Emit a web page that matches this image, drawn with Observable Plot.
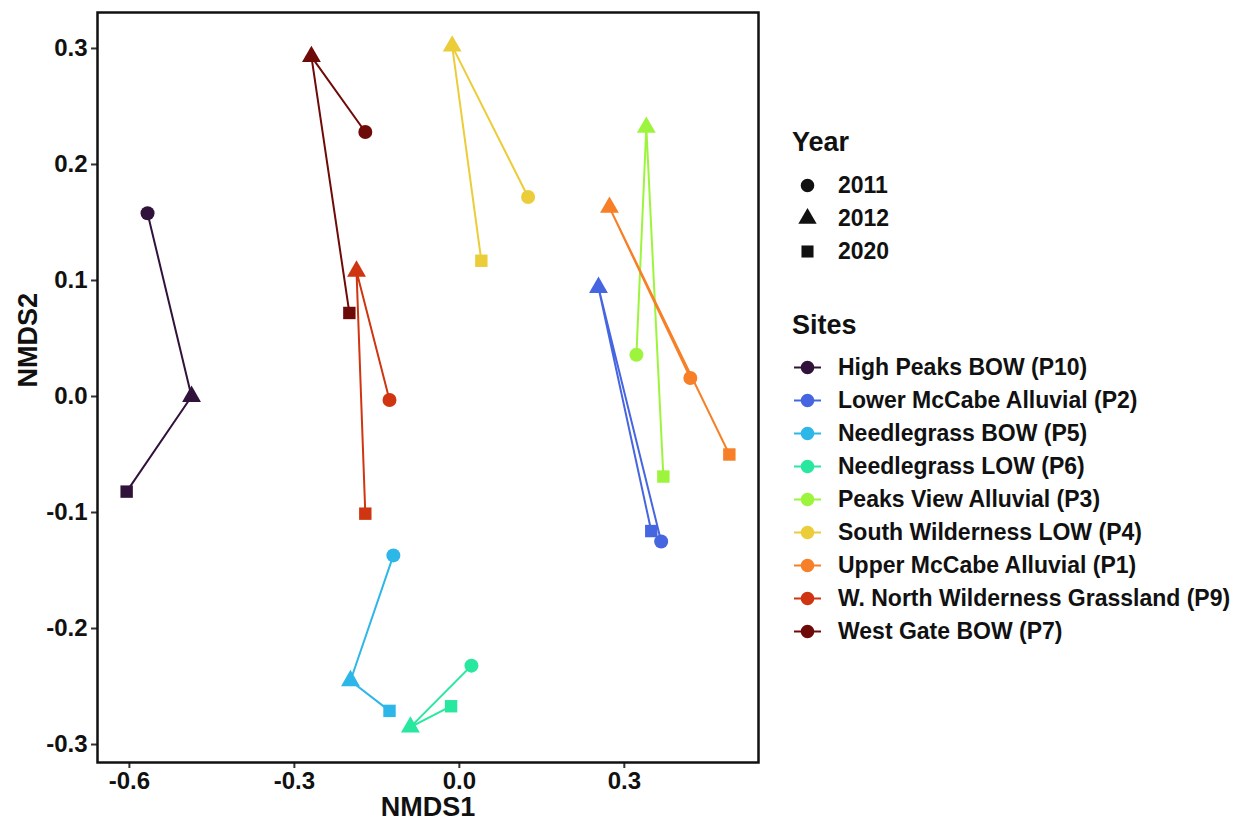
<!DOCTYPE html>
<html>
<head>
<meta charset="utf-8">
<script src="https://cdn.jsdelivr.net/npm/d3@7"></script>
<script src="https://cdn.jsdelivr.net/npm/@observablehq/plot@0.6"></script>
<style>
  body { margin: 0; background: #fff; font-family: "Liberation Sans", Arial, sans-serif; font-weight: bold; }
  #wrap { position: relative; width: 1235px; height: 822px; }
  #chart { position: absolute; left: 0; top: 0; }
  #legend { position: absolute; left: 792px; top: 0; color: #111; }
  .ltitle { position: absolute; left: 0; font-size: 27px; white-space: nowrap; line-height: 1; }
  .lrow { position: absolute; left: 0; height: 33px; display: flex; align-items: center; white-space: nowrap; font-size: 23px; }
  .lrow svg { display: block; }
  .lrow span { margin-left: 16px; }
</style>
</head>
<body>
<div id="wrap">
  <div id="chart"></div>
  <div id="legend"></div>
</div>
<script>
// ---- data ----
const sites = [
  "High Peaks BOW (P10)",
  "Lower McCabe Alluvial (P2)",
  "Needlegrass BOW (P5)",
  "Needlegrass LOW (P6)",
  "Peaks View Alluvial (P3)",
  "South Wilderness LOW (P4)",
  "Upper McCabe Alluvial (P1)",
  "W. North Wilderness Grassland (P9)",
  "West Gate BOW (P7)"
];
const siteColors = ["#30123b", "#4665e0", "#2cb7e8", "#28e8a0", "#9cf53c", "#ebcd3a", "#f67f27", "#cf3510", "#6e0a08"];
const years = ["2011", "2012", "2020"];
const yearSymbols = ["circle", "triangle", "square"];

// NMDS1 per site, in year order 2011, 2012, 2020
const nmds1 = [
  [-0.567, -0.487, -0.605],
  [0.367, 0.253, 0.349],
  [-0.120, -0.198, -0.127],
  [0.022, -0.089, -0.015],
  [0.322, 0.340, 0.371],
  [0.125, -0.013, 0.040],
  [0.420, 0.273, 0.491],
  [-0.127, -0.187, -0.171],
  [-0.171, -0.269, -0.200]
];
// NMDS2 per site, in year order 2011, 2012, 2020
const nmds2 = [
  [0.158, 0.000, -0.082],
  [-0.125, 0.094, -0.116],
  [-0.137, -0.245, -0.271],
  [-0.232, -0.285, -0.267],
  [0.036, 0.232, -0.069],
  [0.172, 0.302, 0.117],
  [0.016, 0.163, -0.050],
  [-0.003, 0.108, -0.101],
  [0.228, 0.293, 0.072]
];
const xTicks = [-0.6, -0.3, 0.0, 0.3];
const yTicks = [-0.3, -0.2, -0.1, 0.0, 0.1, 0.2, 0.3];

// ---- build table ----
const rows = [];
sites.forEach((s, i) => {
  years.forEach((y, j) => {
    rows.push({site: s, year: y, x: nmds1[i][j], y: nmds2[i][j]});
  });
});

const fmt = d => d.toFixed(1);
const font = "'Liberation Sans', Arial, sans-serif";

const chart = Plot.plot({
  width: 770,
  height: 822,
  marginLeft: 97,
  marginRight: 12,
  marginTop: 12,
  marginBottom: 60,
  style: {fontFamily: font, fontWeight: "bold", fontSize: "24px", color: "#111", background: "white", overflow: "visible"},
  x: {domain: [-0.658, 0.544]},
  y: {domain: [-0.3155, 0.331]},
  color: {domain: sites, range: siteColors},
  symbol: {domain: years, range: yearSymbols},
  marks: [
    Plot.axisX({ticks: xTicks, tickFormat: fmt, tickSize: 6, tickPadding: 3, fontSize: 24, label: null, stroke: "#333", strokeWidth: 2}),
    Plot.axisY({ticks: yTicks, tickFormat: fmt, tickSize: 6, tickPadding: 4, fontSize: 24, label: null, stroke: "#333", strokeWidth: 2}),
    Plot.line(rows, {x: "x", y: "y", z: "site", stroke: "site", strokeWidth: 2}),
    Plot.dot(rows, {x: "x", y: "y", fill: "site", symbol: "year", r: 7, stroke: "none"}),
    Plot.frame({stroke: "#111", strokeWidth: 2.5}),
    Plot.text(["NMDS1"], {frameAnchor: "bottom", dy: 53, fontSize: 27, fontWeight: "bold", fill: "#111"}),
    Plot.text(["NMDS2"], {frameAnchor: "left", dx: -69, rotate: -90, fontSize: 27, fontWeight: "bold", fill: "#111"})
  ]
});
document.getElementById("chart").appendChild(chart);

// ---- legends ----
const legend = document.getElementById("legend");
function addTitle(text, centerY) {
  const d = document.createElement("div");
  d.className = "ltitle";
  d.textContent = text;
  d.style.top = (centerY - 13.5) + "px";
  legend.appendChild(d);
}
function addRow(centerY, swatch, label) {
  const d = document.createElement("div");
  d.className = "lrow";
  d.style.top = (centerY - 16.5) + "px";
  d.appendChild(swatch);
  const sp = document.createElement("span");
  sp.textContent = label;
  d.appendChild(sp);
  legend.appendChild(d);
}
const sym = {circle: d3.symbolCircle, triangle: d3.symbolTriangle, square: d3.symbolSquare};
function swatchSvg(color, symbolName, withLine) {
  const ns = "http://www.w3.org/2000/svg";
  const svg = document.createElementNS(ns, "svg");
  svg.setAttribute("width", 30);
  svg.setAttribute("height", 33);
  if (withLine) {
    const l = document.createElementNS(ns, "line");
    l.setAttribute("x1", 2); l.setAttribute("x2", 29);
    l.setAttribute("y1", 16.5); l.setAttribute("y2", 16.5);
    l.setAttribute("stroke", color); l.setAttribute("stroke-width", 2);
    svg.appendChild(l);
  }
  const p = document.createElementNS(ns, "path");
  p.setAttribute("d", d3.symbol(sym[symbolName], Math.PI * 6.8 * 6.8)());
  p.setAttribute("transform", "translate(15.5,16.5)");
  p.setAttribute("fill", color);
  svg.appendChild(p);
  return svg;
}
addTitle("Year", 142);
years.forEach((y, i) => addRow(185 + i * 33, swatchSvg("#111", yearSymbols[i], false), y));
addTitle("Sites", 325);
sites.forEach((s, i) => addRow(367 + i * 33, swatchSvg(siteColors[i], "circle", true), s));
</script>
</body>
</html>
